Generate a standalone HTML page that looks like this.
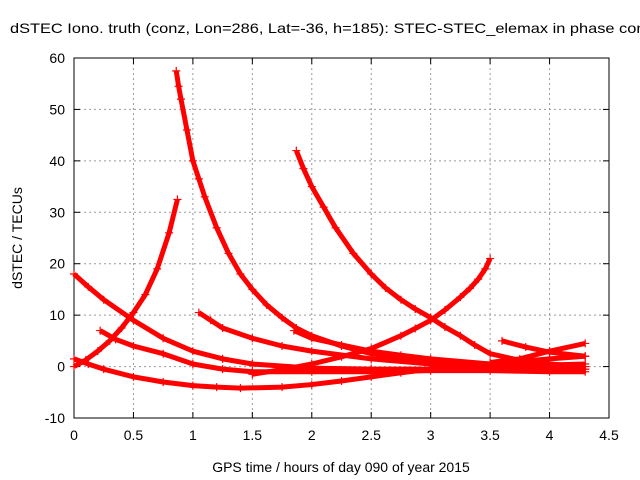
<!DOCTYPE html>
<html><head><meta charset="utf-8"><style>
body{margin:0;background:#fff;}
svg{display:block;font-family:"Liberation Sans",sans-serif;}
</style></head><body>
<svg id="chart" width="640" height="480">
<text x="10" y="33" font-size="14" textLength="640" lengthAdjust="spacingAndGlyphs">dSTEC Iono. truth (conz, Lon=286, Lat=-36, h=185): STEC-STEC_elemax in phase cont</text>
<g id="grid"></g><g id="axes"></g><g id="series"></g>
<text x="341" y="472" font-size="14" text-anchor="middle">GPS time / hours of day 090 of year 2015</text>
<text transform="translate(22,238) rotate(-90)" font-size="14" text-anchor="middle">dSTEC  / TECUs</text>
</svg>
<script>
const xTicks=[0,0.5,1,1.5,2,2.5,3,3.5,4,4.5];
const yTicks=[-10,0,10,20,30,40,50,60];
const sA=[[0,0],[0.1,1.3],[0.2,3],[0.3,5],[0.4,7.5],[0.5,10.5],[0.6,14],[0.7,19],[0.8,26],[0.87,32.5]];
const sB=[[0,18],[0.12,15.5],[0.25,13],[0.5,9],[0.75,5.5],[1,3],[1.25,1.5],[1.5,0.5],[2,-0.3],[2.5,-0.5],[3,-0.5],[3.5,-0.3],[4,-0.2],[4.3,-0.5]];
const sC=[[0.22,7],[0.35,5.3],[0.5,4],[0.75,2.5],[1,0.5],[1.25,-0.5],[1.5,-1],[2,-1],[2.5,-1],[3,-0.8],[3.5,-0.8],[4,-1],[4.3,-1]];
const sD=[[0,1.5],[0.12,0.5],[0.25,-0.5],[0.5,-2],[0.75,-3],[1,-3.7],[1.2,-4],[1.4,-4.2],[1.75,-4],[2,-3.5],[2.25,-2.8],[2.5,-2],[2.75,-1.2],[3,-0.5],[3.5,0.5],[4,1.5],[4.3,2]];
const sE=[[0.86,57.5],[0.88,54.5],[0.9,52],[0.95,46],[1,40],[1.05,36.5],[1.1,33],[1.2,27],[1.3,22],[1.4,18],[1.5,15],[1.62,12],[1.75,9.5],[1.87,7.5],[2,6],[2.25,4],[2.5,2.5],[3,1],[3.5,0.5],[4,0],[4.3,0]];
const sF=[[1.05,10.5],[1.15,9],[1.25,7.5],[1.5,5.5],[1.75,4],[2,3],[2.5,1.5],[3,0.5],[3.5,-0.2],[4,-0.5],[4.3,-0.5]];
const sG=[[1.87,42],[1.93,38.5],[2,35],[2.1,31],[2.2,27],[2.35,22],[2.5,18],[2.62,15.3],[2.75,13],[2.87,11.2],[3,9.5],[3.12,7.7],[3.25,6],[3.37,4.2],[3.5,2.5],[3.75,1.2],[4,0.5],[4.3,0]];
const sH=[[1.5,-1.5],[1.75,-0.6],[2,0.5],[2.25,1.9],[2.5,3.5],[2.75,6],[2.87,7.4],[3,9],[3.12,11],[3.25,13.5],[3.33,15.2],[3.4,17],[3.46,19],[3.5,21]];
const sI=[[1.85,7],[2,5.5],[2.25,4.2],[2.5,3],[2.75,2.2],[3,1.5],[3.5,0.5],[4,0.3],[4.3,0.5]];
const sJ=[[3.6,5],[3.8,3.8],[4,2.8],[4.3,2]];
const sK=[[3.5,0.8],[3.75,1.5],[4,3],[4.3,4.5]];
const allSeries=[sA,sB,sC,sD,sE,sF,sG,sH,sI,sJ,sK];
const X0=74,X1=609,Y0=418,Y1=58;
const xs=t=>X0+(t/4.5)*(X1-X0);
const ys=v=>Y0-((v+10)/70)*(Y0-Y1);
const NS="http://www.w3.org/2000/svg";
function mk(tag,attrs,parent){const e=document.createElementNS(NS,tag);for(const k in attrs)e.setAttribute(k,attrs[k]);parent.appendChild(e);return e;}
const grid=document.getElementById('grid'),axes=document.getElementById('axes'),ser=document.getElementById('series');
xTicks.forEach(t=>{const x=xs(t);
 if(t>0&&t<4.5){const l=mk('line',{x1:x,x2:x,y1:Y1,y2:Y0,stroke:'#999','stroke-dasharray':'2,3'},grid);
 
 }
 mk('line',{x1:x,x2:x,y1:Y0,y2:Y0-6,stroke:'#000'},axes);mk('line',{x1:x,x2:x,y1:Y1,y2:Y1+6,stroke:'#000'},axes);
 const tx=mk('text',{x:x,y:Y0+22,'font-size':14,'text-anchor':'middle'},axes);tx.textContent=t;
 
 });
yTicks.forEach(v=>{const y=ys(v);
 if(v>-10&&v<60){const l=mk('line',{x1:X0,x2:X1,y1:y,y2:y,stroke:'#999','stroke-dasharray':'2,3'},grid);
 
 }
 mk('line',{x1:X0,x2:X0+6,y1:y,y2:y,stroke:'#000'},axes);mk('line',{x1:X1,x2:X1-6,y1:y,y2:y,stroke:'#000'},axes);
 const tx=mk('text',{x:X0-9,y:y+5,'font-size':14,'text-anchor':'end'},axes);tx.textContent=v;
 
 });
const fr=mk('rect',{x:X0,y:Y1,width:X1-X0,height:Y0-Y1,fill:'none',stroke:'#000'},axes);


allSeries.forEach((s,i)=>{
 const pts=s.map(p=>xs(p[0])+','+ys(p[1])).join(' ');
 const pl=mk('polyline',{points:pts,fill:'none',stroke:'#f00','stroke-width':5,'stroke-linejoin':'round'},ser);
 
 
 s.forEach(p=>{const x=xs(p[0]),y=ys(p[1]);
  mk('path',{d:`M${x-4},${y}H${x+4}M${x},${y-4}V${y+4}`,stroke:'#f00','stroke-width':1.2},ser);});
});
</script>
</body></html>
